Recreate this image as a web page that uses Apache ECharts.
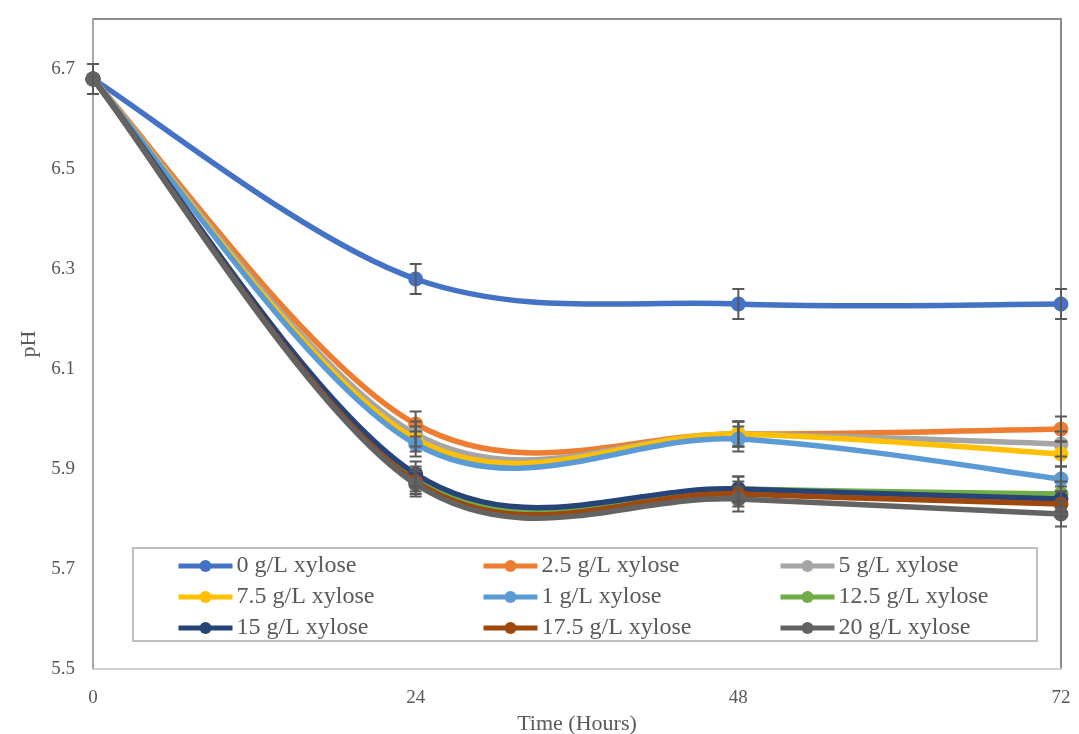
<!DOCTYPE html>
<html><head><meta charset="utf-8">
<script src="https://cdn.jsdelivr.net/npm/echarts@6/dist/echarts.min.js"></script>
<style>html,body{margin:0;padding:0;background:#fff}#c{width:1079px;height:734px}</style>
</head><body><div id="c"></div>
<script>
const hours = [0, 24, 48, 72];
const xTicks = [0, 24, 48, 72];
const names = ['0 g/L xylose','2.5 g/L xylose','5 g/L xylose','7.5 g/L xylose','1 g/L xylose','12.5 g/L xylose','15 g/L xylose','17.5 g/L xylose','20 g/L xylose'];
const colors = ['#4472C4','#ED7D31','#A5A5A5','#FFC000','#5B9BD5','#70AD47','#264478','#9E480E','#636363'];
const ph0   = [6.68, 6.28, 6.23, 6.23];
const ph2_5 = [6.68, 5.99, 5.97, 5.98];
const ph5   = [6.68, 5.97, 5.97, 5.95];
const ph7_5 = [6.68, 5.96, 5.97, 5.93];
const ph1   = [6.68, 5.95, 5.96, 5.88];
const ph12_5= [6.68, 5.88, 5.86, 5.85];
const ph15  = [6.68, 5.89, 5.86, 5.84];
const ph17_5= [6.68, 5.875, 5.85, 5.83];
const ph20  = [6.68, 5.87, 5.84, 5.81];
const err0  = [0.03, 0.03, 0.03, 0.03];
const errOther = [0.03, 0.025, 0.025, 0.025];
const seriesVals = [ph0, ph2_5, ph5, ph7_5, ph1, ph12_5, ph15, ph17_5, ph20];
const seriesErr = [err0, errOther, errOther, errOther, errOther, errOther, errOther, errOther, errOther];

const font = 'Liberation Serif, Times New Roman, serif';
const series = [];
seriesVals.forEach((vals, i) => {
  const pts = hours.map((h, j) => [h, vals[j]]);
  // smooth curve (Catmull-Rom style, like Excel's smoothed line)
  series.push({
    type: 'custom', name: names[i] + ' curve', z: 2 + 2 * i, silent: true,
    data: pts,
    renderItem: function (params, api) {
      const k = params.dataIndex;
      const n = pts.length;
      if (k >= n - 1) return null;
      const c = idx => api.coord(pts[Math.max(0, Math.min(n - 1, idx))]);
      const p0 = c(k - 1), p1 = c(k), p2 = c(k + 1), p3 = c(k + 2);
      const t = 1 / 6;
      return {
        type: 'bezierCurve',
        shape: {
          x1: p1[0], y1: p1[1], x2: p2[0], y2: p2[1],
          cpx1: p1[0] + (p2[0] - p0[0]) * t, cpy1: p1[1] + (p2[1] - p0[1]) * t,
          cpx2: p2[0] - (p3[0] - p1[0]) * t, cpy2: p2[1] - (p3[1] - p1[1]) * t
        },
        style: {stroke: colors[i], lineWidth: 5.5, fill: null, lineCap: 'round'}
      };
    }
  });
  series.push({
    name: names[i], type: 'line',
    data: pts,
    symbol: 'circle', symbolSize: 15,
    lineStyle: {width: 5, color: colors[i], opacity: 0},
    itemStyle: {color: colors[i]},
    z: 3 + 2 * i
  });
});
const errData = [];
seriesVals.forEach((vals, i) => {
  hours.forEach((h, j) => errData.push([h, vals[j] - seriesErr[i][j], vals[j] + seriesErr[i][j]]));
});
series.push({
  type: 'custom', name: 'err', z: 30, silent: true,
  data: errData,
  renderItem: function (params, api) {
    const x = api.value(0);
    const lo = api.coord([x, api.value(1)]);
    const hi = api.coord([x, api.value(2)]);
    const w = 6;
    const st = {stroke: '#595959', lineWidth: 2};
    return {type: 'group', children: [
      {type: 'line', shape: {x1: lo[0], y1: lo[1], x2: hi[0], y2: hi[1]}, style: st},
      {type: 'line', shape: {x1: lo[0]-w, y1: lo[1], x2: lo[0]+w, y2: lo[1]}, style: st},
      {type: 'line', shape: {x1: hi[0]-w, y1: hi[1], x2: hi[0]+w, y2: hi[1]}, style: st}
    ]};
  }
});

const legendBase = {
  orient: 'vertical', itemWidth: 54, itemHeight: 15, itemGap: 7, z: 10, padding: 0,
  lineStyle: {width: 5, opacity: 1, color: 'inherit'},
  textStyle: {fontFamily: font, fontSize: 24, color: '#595959', padding: [0,0,0,-1]},
  top: 554
};
const chart = echarts.init(document.getElementById('c'));
chart.setOption({
  animation: false,
  grid: {left: 93, right: 18, top: 19, bottom: 65, outerBoundsMode: 'none', containLabel: false,
    show: true, borderColor: '#8c8c8c', borderWidth: 2, backgroundColor: 'transparent'},
  xAxis: {
    type: 'value', min: 0, max: 72, interval: 24,
    name: 'Time (Hours)', nameLocation: 'middle', nameGap: 32,
    nameTextStyle: {fontFamily: font, fontSize: 22, color: '#595959'},
    axisLine: {show: true, lineStyle: {color: '#d0d0d0', width: 2}},
    axisTick: {show: false}, splitLine: {show: false},
    axisLabel: {fontFamily: font, fontSize: 19, color: '#595959', margin: 20}
  },
  yAxis: {
    type: 'value', min: 5.5, max: 6.8, interval: 0.2,
    name: 'pH', nameLocation: 'middle', nameGap: 53,
    nameTextStyle: {fontFamily: font, fontSize: 22, color: '#595959'},
    axisLine: {show: true, lineStyle: {color: '#a6a6a6', width: 2}},
    axisTick: {show: false}, splitLine: {show: false},
    axisLabel: {fontFamily: font, fontSize: 19, color: '#595959', margin: 18,
      formatter: v => Math.abs(v - 6.8) < 1e-6 ? '' : v.toFixed(1)}
  },
  graphic: [{type: 'rect', z: 5, shape: {x: 133, y: 548, width: 904, height: 93},
    style: {fill: '#fff', stroke: '#bfbfbf', lineWidth: 2}}],
  legend: [
    Object.assign({}, legendBase, {left: 176, data: [names[0], names[3], names[6]]}),
    Object.assign({}, legendBase, {left: 481, data: [names[1], names[4], names[7]]}),
    Object.assign({}, legendBase, {left: 778, data: [names[2], names[5], names[8]]})
  ],
  series: series
});
</script></body></html>
